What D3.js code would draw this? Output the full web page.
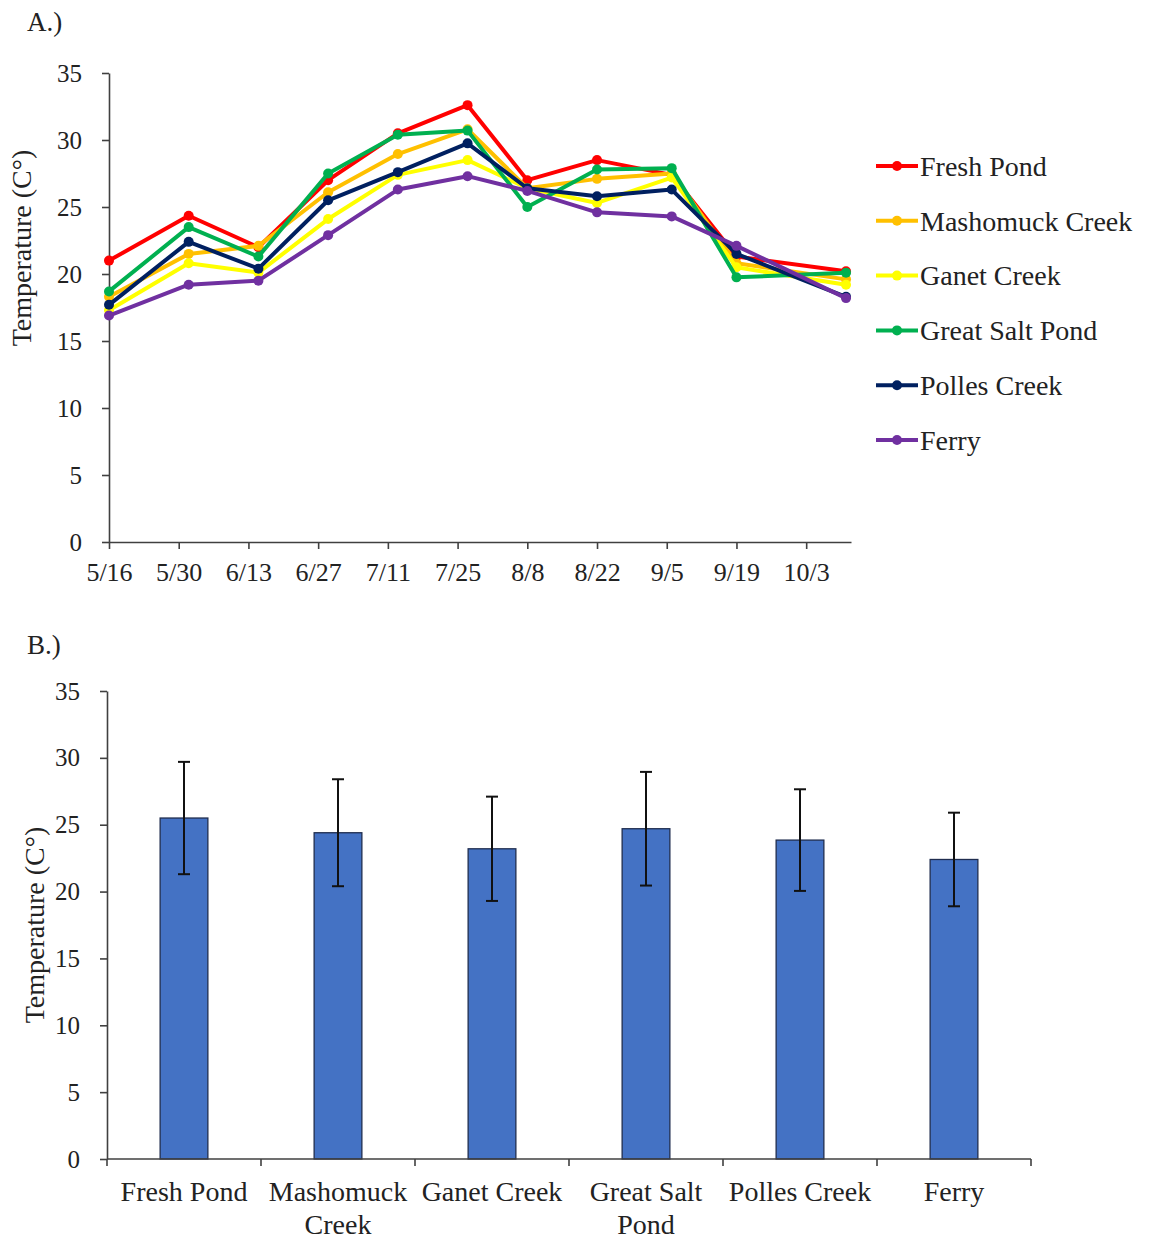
<!DOCTYPE html>
<html>
<head>
<meta charset="utf-8">
<script src="https://cdn.jsdelivr.net/npm/d3@7"></script>
<style>
  body { margin: 0; background: #fff; }
  svg { display: block; font-family: "Liberation Serif", "Times New Roman", serif; }
  .axis path, .axis line { stroke: #404040; stroke-width: 1.6; }
  .axis text { fill: #222; }
</style>
</head>
<body>
<svg id="chart"></svg>
<script>
//Base SVG values
let width = 1151
let height = 1240

//Data - panel A
const sites = ["Fresh Pond", "Mashomuck Creek", "Ganet Creek", "Great Salt Pond", "Polles Creek", "Ferry"]
const siteColors = ["#FF0000", "#FFC000", "#FFFF00", "#00B050", "#002060", "#7030A0"]
const sampleDates = ["2016-05-16", "2016-06-01", "2016-06-15", "2016-06-29", "2016-07-13", "2016-07-27",
                     "2016-08-08", "2016-08-22", "2016-09-06", "2016-09-19", "2016-10-11"]
const freshPond = [21.0, 24.35, 22.0, 27.0, 30.5, 32.6, 27.0, 28.5, 27.4, 21.3, 20.2]
const mashomuck = [18.3, 21.5, 22.1, 26.1, 28.95, 30.8, 26.4, 27.1, 27.5, 20.8, 19.6]
const ganet = [17.3, 20.8, 20.1, 24.1, 27.4, 28.5, 26.4, 25.3, 27.2, 20.5, 19.2]
const greatSalt = [18.7, 23.5, 21.3, 27.5, 30.4, 30.7, 25.0, 27.8, 27.9, 19.75, 20.1]
const polles = [17.7, 22.4, 20.4, 25.5, 27.6, 29.75, 26.4, 25.8, 26.3, 21.5, 18.3]
const ferry = [16.9, 19.2, 19.5, 22.9, 26.3, 27.3, 26.2, 24.6, 24.3, 22.1, 18.2]
const dateTicks = ["2016-05-16", "2016-05-30", "2016-06-13", "2016-06-27", "2016-07-11", "2016-07-25",
                   "2016-08-08", "2016-08-22", "2016-09-05", "2016-09-19", "2016-10-03"]
const tempTicks = [0, 5, 10, 15, 20, 25, 30, 35]

//Data - panel B
const meanTemp = [25.5, 24.4, 23.2, 24.7, 23.85, 22.4]
const sdTemp = [4.2, 4.0, 3.9, 4.25, 3.8, 3.5]

const allSeries = [freshPond, mashomuck, ganet, greatSalt, polles, ferry]
const parseDate = d3.utcParse("%Y-%m-%d")

let svg = d3.select("#chart")
	.attr("width", width)
	.attr("height", height)

svg.append("rect").attr("width", width).attr("height", height).attr("fill", "#fff")

//Panel A
let plotA = { left: 109, right: 851, top: 73, bottom: 542 }

let xScaleA = d3.scaleUtc()
	.domain([parseDate("2016-05-16"), parseDate("2016-10-12")])
	.range([plotA.left, plotA.right])
let yScaleA = d3.scaleLinear()
	.domain([0, 35])
	.range([plotA.bottom, plotA.top])

svg.append("g")
	.attr("class", "axis")
	.attr("transform", `translate(${plotA.left},0)`)
	.call(d3.axisLeft(yScaleA).tickValues(tempTicks).tickSize(7).tickPadding(20).tickSizeOuter(0))
	.call(g => g.selectAll("text").style("font-size", "25px").style("font-family", "Liberation Serif"))

svg.append("g")
	.attr("class", "axis")
	.attr("transform", `translate(0,${plotA.bottom})`)
	.call(d3.axisBottom(xScaleA).tickValues(dateTicks.map(parseDate)).tickFormat(d3.utcFormat("%-m/%-d"))
		.tickSize(7).tickPadding(14).tickSizeOuter(0))
	.call(g => g.selectAll("text").style("font-size", "26px").style("font-family", "Liberation Serif"))

let line = d3.line()
	.x((d, i) => xScaleA(parseDate(sampleDates[i])))
	.y(d => yScaleA(d))

allSeries.forEach((series, s) => {
	let g = svg.append("g")
	g.append("path")
		.datum(series)
		.attr("d", line)
		.attr("fill", "none")
		.attr("stroke", siteColors[s])
		.attr("stroke-width", 4)
		.attr("stroke-linejoin", "round")
	g.selectAll("circle")
		.data(series)
		.enter()
		.append("circle")
		.attr("cx", (d, i) => xScaleA(parseDate(sampleDates[i])))
		.attr("cy", d => yScaleA(d))
		.attr("r", 5)
		.attr("fill", siteColors[s])
})

//Legend
let legendY = d3.scalePoint().domain(sites).range([166, 440])
let legend = svg.append("g")
sites.forEach((name, s) => {
	let y = legendY(name)
	legend.append("line")
		.attr("x1", 876).attr("x2", 918).attr("y1", y).attr("y2", y)
		.attr("stroke", siteColors[s]).attr("stroke-width", 4)
	legend.append("circle")
		.attr("cx", 897).attr("cy", y).attr("r", 5).attr("fill", siteColors[s])
	legend.append("text")
		.attr("x", 920).attr("y", y)
		.attr("dy", "0.35em")
		.style("font-size", "28px")
		.attr("fill", "#222")
		.text(name)
})

svg.append("text")
	.attr("x", 27).attr("y", 31)
	.style("font-size", "27px").attr("fill", "#222")
	.text("A.)")

svg.append("text")
	.attr("transform", "rotate(-90)")
	.attr("x", -248)
	.attr("y", 31)
	.style("text-anchor", "middle")
	.style("font-size", "28px").attr("fill", "#222")
	.text("Temperature (C°)")

//Panel B
let plotB = { left: 107, right: 1031, top: 691, bottom: 1159 }

let xScaleB = d3.scaleBand()
	.domain(sites)
	.range([plotB.left, plotB.right])
	.paddingInner(0.69)
	.paddingOuter(0.345)
let bandOuter = d3.scaleBand().domain(sites).range([plotB.left, plotB.right])
let yScaleB = d3.scaleLinear()
	.domain([0, 35])
	.range([plotB.bottom, plotB.top])

svg.append("g")
	.attr("class", "axis")
	.attr("transform", `translate(${plotB.left},0)`)
	.call(d3.axisLeft(yScaleB).tickValues(tempTicks).tickSize(7).tickPadding(20).tickSizeOuter(0))
	.call(g => g.selectAll("text").style("font-size", "25px").style("font-family", "Liberation Serif"))

svg.selectAll(".bar")
	.data(meanTemp)
	.enter()
	.append("rect")
	.attr("class", "bar")
	.attr("x", (d, i) => xScaleB(sites[i]))
	.attr("width", xScaleB.bandwidth())
	.attr("y", d => yScaleB(d))
	.attr("height", d => yScaleB(0) - yScaleB(d))
	.attr("fill", "#4472C4")
	.attr("stroke", "#1F2D4F")
	.attr("stroke-width", 1.3)

//error bars
let errG = svg.append("g").attr("stroke", "#111").attr("stroke-width", 2)
meanTemp.forEach((m, i) => {
	let cx = xScaleB(sites[i]) + xScaleB.bandwidth() / 2
	let hi = yScaleB(m + sdTemp[i]), lo = yScaleB(m - sdTemp[i])
	errG.append("line").attr("x1", cx).attr("x2", cx).attr("y1", hi).attr("y2", lo)
	errG.append("line").attr("x1", cx - 6).attr("x2", cx + 6).attr("y1", hi).attr("y2", hi)
	errG.append("line").attr("x1", cx - 6).attr("x2", cx + 6).attr("y1", lo).attr("y2", lo)
})

//category axis with ticks on band edges
let xAxisB = svg.append("g")
	.attr("class", "axis")
	.attr("transform", `translate(0,${plotB.bottom})`)
xAxisB.append("line")
	.attr("x1", plotB.left).attr("x2", plotB.right)
	.attr("stroke", "#404040").attr("stroke-width", 1.6)
let edges = sites.map(s => bandOuter(s)).concat([plotB.right])
xAxisB.selectAll(".edge")
	.data(edges)
	.enter()
	.append("line")
	.attr("x1", d => d).attr("x2", d => d)
	.attr("y1", 0).attr("y2", 7)
	.attr("stroke", "#404040").attr("stroke-width", 1.6)
xAxisB.selectAll(".cat")
	.data(sites)
	.enter()
	.append("text")
	.attr("text-anchor", "middle")
	.attr("x", d => bandOuter(d) + bandOuter.bandwidth() / 2)
	.attr("y", 42)
	.style("font-size", "28px").attr("fill", "#222")
	.each(function(d) {
		let words = d.split(" ")
		let lines = (d === "Mashomuck Creek" || d === "Great Salt Pond")
			? [words.slice(0, -1).join(" "), words[words.length - 1]] : [d]
		d3.select(this).selectAll("tspan")
			.data(lines)
			.enter()
			.append("tspan")
			.attr("x", bandOuter(d) + bandOuter.bandwidth() / 2)
			.attr("dy", (l, j) => j === 0 ? 0 : 33)
			.text(l => l)
	})

svg.append("text")
	.attr("x", 27).attr("y", 654)
	.style("font-size", "27px").attr("fill", "#222")
	.text("B.)")

svg.append("text")
	.attr("transform", "rotate(-90)")
	.attr("x", -(plotB.top + plotB.bottom) / 2)
	.attr("y", 44)
	.style("text-anchor", "middle")
	.style("font-size", "28px").attr("fill", "#222")
	.text("Temperature (C°)")
</script>
</body>
</html>
